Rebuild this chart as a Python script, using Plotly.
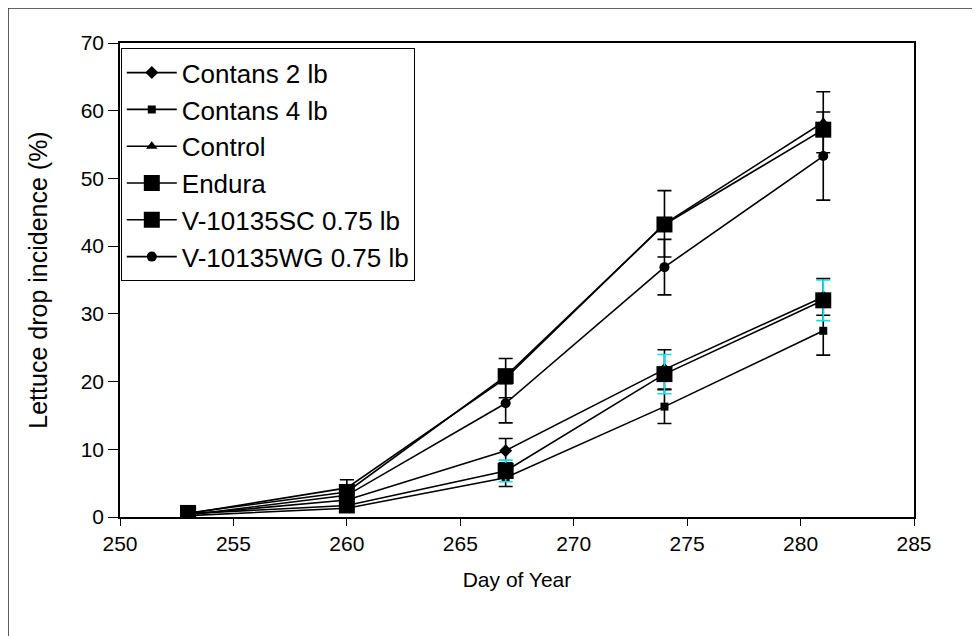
import plotly.graph_objects as go

days = [253, 260, 267, 274, 281]

series_names = ["Contans 2 lb", "Contans 4 lb", "Control", "Endura",
                "V-10135SC 0.75 lb", "V-10135WG 0.75 lb"]

contans2 = [0.4, 2.5, 9.8, 21.8, 32.5]
contans4 = [0.2, 1.3, 5.8, 16.3, 27.5]
control = [0.5, 4.3, 20.5, 43.3, 58.3]
endura = [0.5, 1.7, 6.8, 21.1, 32.0]
v_sc = [0.6, 3.7, 20.8, 43.2, 57.2]
v_wg = [0.3, 3.2, 16.8, 36.9, 53.3]

contans2_err = [0.2, 0.8, 1.8, 2.9, 2.7]
contans4_err = [0.1, 0.5, 1.3, 2.5, 3.6]
control_err = [0.3, 1.2, 2.9, 4.9, 4.5]
endura_err = [0.2, 0.6, 1.6, 2.9, 3.0]
v_sc_err = [0.2, 0.6, 0.8, 0.8, 0.8]
v_wg_err = [0.2, 1.0, 2.9, 4.1, 6.5]

values = [contans2, contans4, control, endura, v_sc, v_wg]
errors = [contans2_err, contans4_err, control_err, endura_err, v_sc_err, v_wg_err]
symbols = ["diamond", "square", "triangle-up", "square", "square", "circle"]
msizes = [10, 8, 10, 16, 16, 10]
err_colors = ["black", "black", "black", "#00e5ee", "black", "black"]

fig = go.Figure()
for i, name in enumerate(series_names):
    fig.add_trace(go.Scatter(
        x=days, y=values[i], name=name, mode="lines+markers",
        legendgroup=name,
        line=dict(color="black", width=1.6),
        marker=dict(symbol=symbols[i], size=msizes[i], color="black",
                    line=dict(width=0)),
        error_y=dict(type="data", array=errors[i], visible=True,
                     color=err_colors[i], thickness=1.6, width=7),
    ))

fig.update_layout(
    width=980, height=636,
    paper_bgcolor="white", plot_bgcolor="white",
    margin=dict(l=112, r=74, t=35, b=127),
    font=dict(family="Liberation Sans, Arial, sans-serif", size=20, color="black"),
    showlegend=True,
    legend=dict(
        x=0.001, y=0.989, xanchor="left", yanchor="top",
        bgcolor="white", bordercolor="black", borderwidth=1,
        font=dict(size=26, color="black"),
        traceorder="grouped", tracegroupgap=0,
        itemwidth=50,
    ),
    xaxis=dict(
        range=[250, 285], tickmode="array", tickvals=[250, 255, 260, 265, 270, 275, 280, 285],
        showgrid=False, zeroline=False, showline=True, linecolor="black", linewidth=1.5,
        mirror=True, ticks="outside", ticklen=7, tickcolor="black", tickwidth=1,
        tickfont=dict(size=21),
        title=dict(text="Day of Year", font=dict(size=21), standoff=18),
    ),
    yaxis=dict(
        range=[0, 70], tickmode="array", tickvals=[0, 10, 20, 30, 40, 50, 60, 70],
        showgrid=False, zeroline=False, showline=True, linecolor="black", linewidth=1.5,
        mirror=True, ticks="outside", ticklen=10, tickcolor="black", tickwidth=1,
        tickfont=dict(size=21),
        title=dict(text="Lettuce drop incidence (%)", font=dict(size=25), standoff=26),
    ),
    shapes=[dict(type="rect", xref="paper", yref="paper",
                 x0=-0.141, x1=1.2, y0=-0.5, y1=1.0738,
                 line=dict(color="#333333", width=1.5), fillcolor="rgba(0,0,0,0)",
                 layer="below")],
)

fig.write_html("out.html")
